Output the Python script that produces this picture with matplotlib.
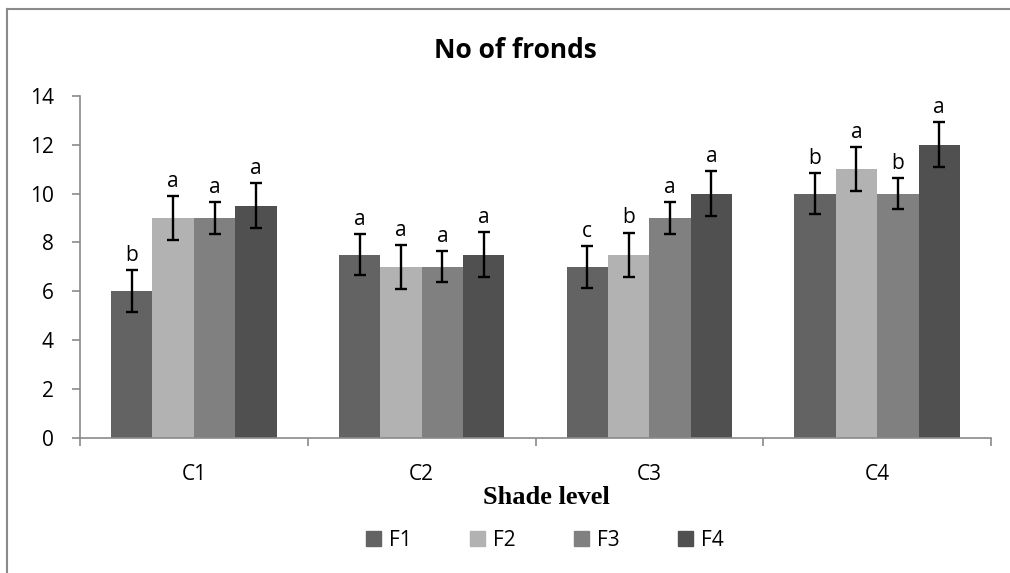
import numpy as np
import matplotlib.pyplot as plt
from matplotlib.lines import Line2D

categories = ['C1', 'C2', 'C3', 'C4']
series = ['F1', 'F2', 'F3', 'F4']
f1 = [6.0, 7.5, 7.0, 10.0]
f2 = [9.0, 7.0, 7.5, 11.0]
f3 = [9.0, 7.0, 9.0, 10.0]
f4 = [9.5, 7.5, 10.0, 12.0]
f1_err = [0.86, 0.84, 0.86, 0.84]
f2_err = [0.90, 0.90, 0.90, 0.90]
f3_err = [0.64, 0.64, 0.64, 0.64]
f4_err = [0.92, 0.92, 0.93, 0.92]
f1_sig = ['b', 'a', 'c', 'b']
f2_sig = ['a', 'a', 'b', 'a']
f3_sig = ['a', 'a', 'a', 'b']
f4_sig = ['a', 'a', 'a', 'a']
yticks = [0, 2, 4, 6, 8, 10, 12, 14]

colors = ['#636363', '#b2b2b2', '#808080', '#505050']
axis_grey = '#8a8a8a'
sans = ['Open Sans', 'DejaVu Sans']


def main():
    plt.rcParams['font.family'] = sans
    fig = plt.figure(figsize=(10.1, 5.73), dpi=100)
    ax = fig.add_axes([80 / 1010, 1 - 437.5 / 573, 911 / 1010, (437.5 - 96) / 573])

    values = [f1, f2, f3, f4]
    errors = [f1_err, f2_err, f3_err, f4_err]
    sigs = [f1_sig, f2_sig, f3_sig, f4_sig]
    x = np.arange(len(categories))
    bw = 1 / 5.5
    for i, (vals, errs, sig) in enumerate(zip(values, errors, sigs)):
        pos = x + (i - 1.5) * bw
        ax.bar(pos, vals, bw, color=colors[i], label=series[i], zorder=2)
        ax.errorbar(pos, vals, yerr=errs, fmt='none', ecolor='black',
                    elinewidth=1.7, capsize=4.5, capthick=1.7, zorder=3)
        for p, v, e, s in zip(pos, vals, errs, sig):
            ax.annotate(s, (p, v + e), xytext=(0, 3), textcoords='offset points',
                        ha='center', va='bottom', fontsize=15)

    ax.set_xlim(-0.5, len(categories) - 0.5)
    ax.set_ylim(0, 14)
    ax.set_yticks(yticks)
    ax.set_yticklabels([str(t) for t in yticks], fontsize=15)
    ax.set_xticks(x)
    ax.set_xticklabels(categories, fontsize=15)
    ax.tick_params(axis='x', length=0, pad=19)
    ax.tick_params(axis='y', length=6, width=1.2, color=axis_grey, pad=13)
    ax.set_xticks(np.arange(len(categories) + 1) - 0.5, minor=True)
    ax.tick_params(axis='x', which='minor', length=6, width=1.2, color=axis_grey)
    for side in ['top', 'right']:
        ax.spines[side].set_visible(False)
    for side in ['left', 'bottom']:
        ax.spines[side].set_color(axis_grey)
        ax.spines[side].set_linewidth(1.2)

    fig.text(515 / 1010, 1 - 50 / 573, 'No of fronds', ha='center', va='center',
             fontsize=19, fontweight='bold')
    fig.text(546 / 1010, 1 - 498 / 573, 'Shade level', ha='center', va='center',
             fontsize=19, fontweight='bold', family=['Liberation Serif'])

    handles = [plt.Rectangle((0, 0), 1, 1, color=c) for c in colors]
    fig.legend(handles, series, loc='center', bbox_to_anchor=(545 / 1010, 1 - 540 / 573),
               ncol=4, frameon=False, fontsize=15, handlelength=0.7, handleheight=0.7,
               handletextpad=0.4, columnspacing=2.8)

    fig.add_artist(Line2D([7 / 1010, 7 / 1010], [0, 1 - 9 / 573], color=axis_grey,
                          linewidth=1.5, transform=fig.transFigure))
    fig.add_artist(Line2D([7 / 1010, 1], [1 - 9 / 573, 1 - 9 / 573], color=axis_grey,
                          linewidth=1.5, transform=fig.transFigure))

    fig.savefig('out.png', dpi=100)


if __name__ == '__main__':
    main()
